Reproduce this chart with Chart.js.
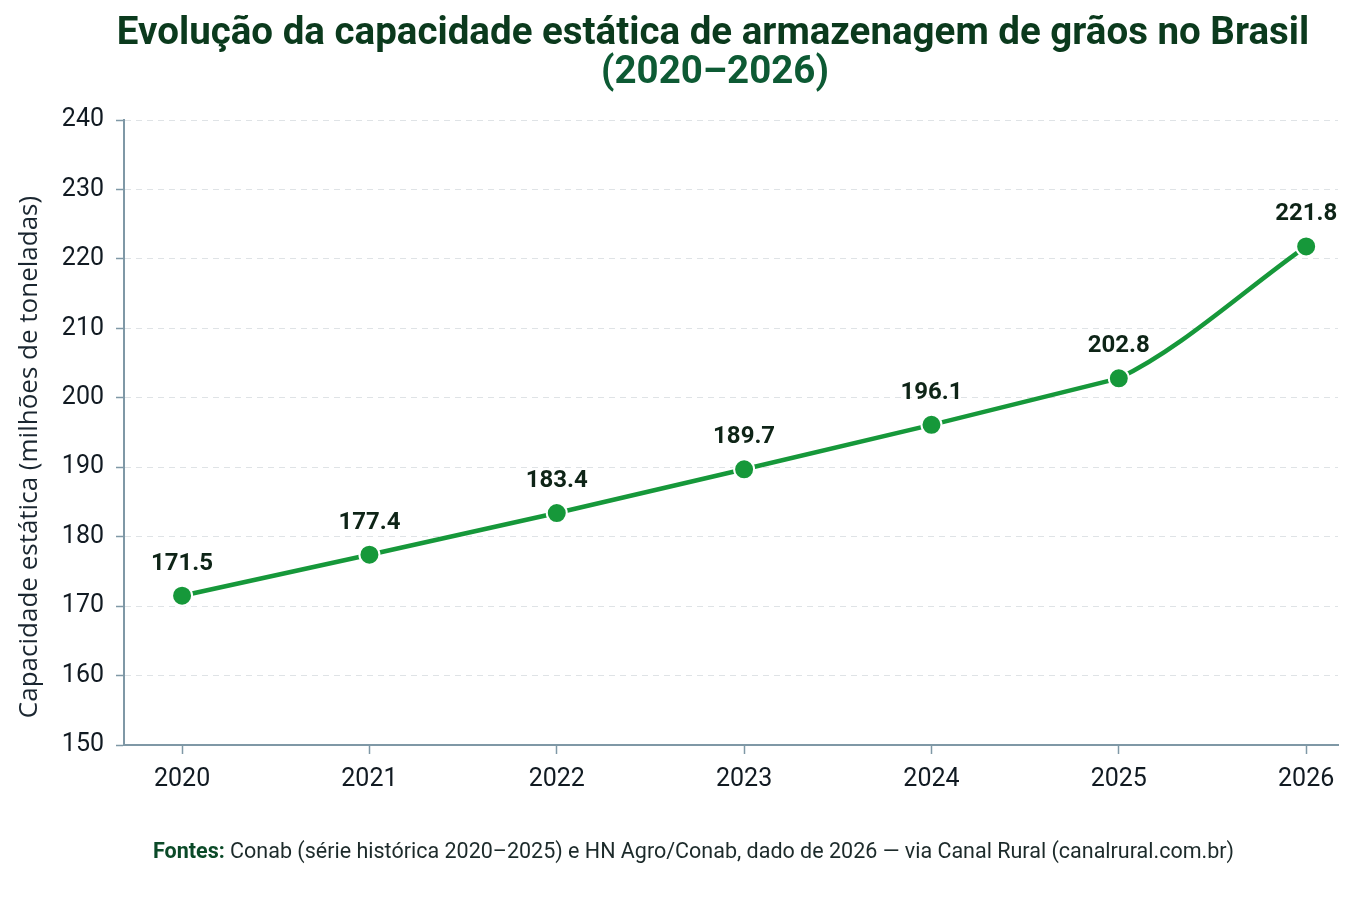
<!DOCTYPE html>
<html>
<head>
<meta charset="utf-8">
<script src="https://cdn.jsdelivr.net/npm/chart.js@4.4.1/dist/chart.umd.min.js"></script>
<style>
  html, body { margin: 0; padding: 0; background: #fff; }
  #wrap { width: 1371px; height: 900px; }
</style>
</head>
<body>
<div id="wrap"><canvas id="myChart" width="1371" height="900"></canvas></div>
<script>
    // Data for the chart
    const years = [2020, 2021, 2022, 2023, 2024, 2025, 2026];
    const capacity = [171.5, 177.4, 183.4, 189.7, 196.1, 202.8, 221.8];
    const yTicks = [150, 160, 170, 180, 190, 200, 210, 220, 230, 240];

    const titleText = 'Evolução da capacidade estática de armazenagem de grãos no Brasil';
    const subtitleText = '(2020–2026)';
    const yTitleText = 'Capacidade estática (milhões de toneladas)';
    const sourceLabel = 'Fontes:';
    const sourceText = ' Conab (série histórica 2020–2025) e HN Agro/Conab, dado de 2026 — via Canal Rural (canalrural.com.br)';

    const green = '#16983a';
    const axisColor = '#7f98a6';
    const points = years.map((yr, i) => ({ x: yr, y: capacity[i] }));
    const lastSeg = years.length - 2;

    // Value labels above each point
    const valueLabels = {
        id: 'valueLabels',
        afterDatasetsDraw(chart) {
            const ctx = chart.ctx;
            const meta = chart.getDatasetMeta(0);
            ctx.save();
            ctx.font = 'bold 24px Roboto';
            ctx.fillStyle = '#0e2417';
            ctx.textAlign = 'center';
            ctx.textBaseline = 'middle';
            meta.data.forEach((pt, i) => {
                ctx.fillText(capacity[i].toFixed(1), pt.x, pt.y - 32);
            });
            ctx.restore();
        }
    };

    // Title, y-axis title and source note
    const headerFooter = {
        id: 'headerFooter',
        afterDraw(chart) {
            const ctx = chart.ctx;
            ctx.save();
            ctx.textAlign = 'center';
            ctx.textBaseline = 'middle';
            ctx.font = 'bold 38.5px Roboto';
            ctx.fillStyle = '#0b3a1d';
            ctx.fillText(titleText, 713, 34);
            ctx.fillStyle = '#0d5a34';
            ctx.fillText(subtitleText, 715, 73);

            // y-axis title, a bit below the plot centre as in the source
            ctx.save();
            ctx.translate(30, 457);
            ctx.rotate(-Math.PI / 2);
            ctx.font = '26px "Open Sans"';
            ctx.fillStyle = '#1a2630';
            ctx.fillText(yTitleText, 0, 0);
            ctx.restore();

            ctx.textAlign = 'left';
            ctx.font = 'bold 21.5px Roboto';
            ctx.fillStyle = '#0b4a28';
            ctx.fillText(sourceLabel, 153, 853);
            const w = ctx.measureText(sourceLabel).width;
            ctx.font = '21.5px Roboto';
            ctx.fillStyle = '#1c2a2a';
            ctx.fillText(sourceText, 153 + w, 853);
            ctx.restore();
        }
    };

    const data = {
        datasets: [{
            // straight segments and the markers
            label: 'Capacidade estática',
            data: points,
            order: 1,
            borderColor: green,
            borderWidth: 4.5,
            backgroundColor: green,
            pointBackgroundColor: green,
            pointBorderColor: '#ffffff',
            pointBorderWidth: 2,
            pointRadius: 10,
            pointHoverRadius: 10,
            tension: 0,
            segment: {
                borderColor: c => c.p0DataIndex === lastSeg ? 'transparent' : green
            }
        }, {
            // smoothed last segment
            label: 'curva',
            data: points,
            order: 2,
            borderColor: green,
            borderWidth: 4.5,
            pointRadius: 0,
            pointHoverRadius: 0,
            cubicInterpolationMode: 'monotone',
            segment: {
                borderColor: c => c.p0DataIndex === lastSeg ? green : 'transparent'
            }
        }]
    };

    const options = {
        responsive: false,
        animation: false,
        layout: { padding: { top: 120, right: 33, bottom: 94, left: 0 } },
        plugins: {
            legend: { display: false },
            tooltip: { enabled: false }
        },
        scales: {
            x: {
                type: 'linear',
                min: 2019.69,
                max: 2026.17,
                afterBuildTicks: axis => { axis.ticks = years.map(v => ({ value: v })); },
                ticks: {
                    callback: v => String(v),
                    color: '#111a22',
                    font: { family: 'Roboto', size: 25 },
                    padding: 11
                },
                grid: {
                    drawOnChartArea: false,
                    drawTicks: true,
                    tickLength: 9,
                    tickColor: axisColor,
                    tickWidth: 1.5
                },
                border: { color: axisColor, width: 2 }
            },
            y: {
                min: 150,
                max: 240,
                afterBuildTicks: axis => { axis.ticks = yTicks.map(v => ({ value: v })); },
                afterFit: scale => { scale.width = 124; },
                ticks: {
                    color: '#111a22',
                    font: { family: 'Roboto', size: 25 },
                    padding: 12
                },
                grid: {
                    color: '#dfe3e6',
                    lineWidth: 1,
                    tickLength: 8,
                    tickColor: axisColor,
                    tickWidth: 1.5
                },
                border: { color: axisColor, width: 2, dash: [6, 5] }
            }
        }
    };

    // Initialize the chart
    const ctx = document.getElementById('myChart').getContext('2d');
    const myChart = new Chart(ctx, {
        type: 'line',
        data: data,
        options: options,
        plugins: [valueLabels, headerFooter]
    });
</script>
</body>
</html>
